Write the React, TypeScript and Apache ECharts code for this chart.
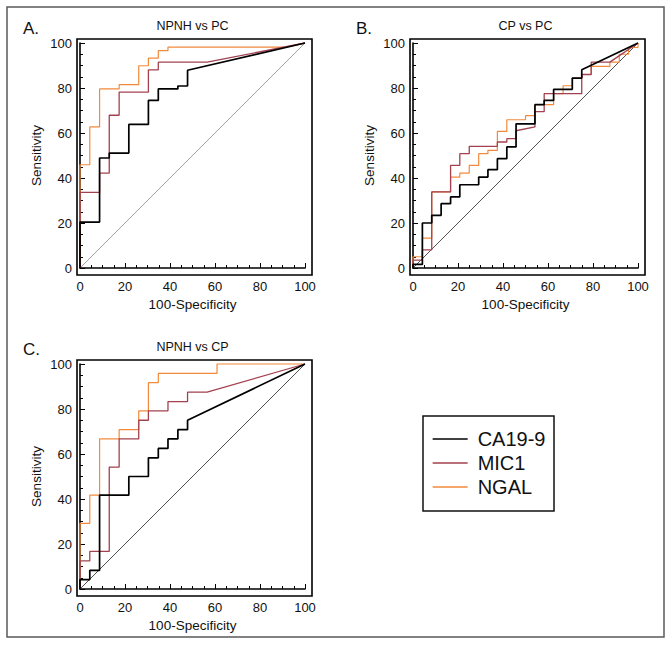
import React, { useEffect, useRef } from "react";
import * as echarts from "echarts";

// ---- data ----
const SERIES_NAMES = ["CA19-9", "MIC1", "NGAL"];
const PANEL_TITLES = ["NPNH vs PC", "CP vs PC", "NPNH vs CP"];
const PANEL_LETTERS = ["A.", "B.", "C."];
const X_AXIS_NAME = "100-Specificity";
const Y_AXIS_NAME = "Sensitivity";
const DIAGONAL = [[0, 0], [100, 100]];

// Panel A: NPNH vs PC
const A_CA199 = [[0, 0], [0, 20.4], [8.7, 20.4], [8.7, 48.9], [13, 48.9], [13, 51.1], [21.7, 51.1], [21.7, 63.8], [30.4, 63.8], [30.4, 74.5], [34.8, 74.5], [34.8, 79.6], [43.5, 79.6], [43.5, 80.9], [47.8, 80.9], [47.8, 87.9], [100, 100]];
const A_MIC1 = [[0, 0], [0, 33.6], [8.7, 33.6], [8.7, 42.2], [13, 42.2], [13, 67.9], [17.4, 67.9], [17.4, 78.2], [30.4, 78.2], [30.4, 88.1], [34.8, 88.1], [34.8, 91.5], [56.5, 91.5], [100, 100]];
const A_NGAL = [[0, 0], [0, 45.9], [4.35, 45.9], [4.35, 62.7], [8.7, 62.7], [8.7, 79.6], [17.4, 79.6], [17.4, 81.5], [26.1, 81.5], [26.1, 89.9], [30.4, 89.9], [30.4, 93.3], [34.8, 93.3], [34.8, 96.6], [39.1, 96.6], [39.1, 98.2], [91.3, 98.2], [100, 100]];

// Panel B: CP vs PC
const B_CA199 = [[0, 0], [0, 1.6], [4.17, 1.6], [4.17, 20], [8.33, 20], [8.33, 23.4], [12.5, 23.4], [12.5, 28.6], [16.7, 28.6], [16.7, 31.6], [20.8, 31.6], [20.8, 37], [29.2, 37], [29.2, 40.4], [33.3, 40.4], [33.3, 43.7], [37.5, 43.7], [37.5, 48.6], [41.7, 48.6], [41.7, 53.8], [45.8, 53.8], [45.8, 64.1], [54.2, 64.1], [54.2, 72.6], [58.3, 72.6], [58.3, 74.5], [62.5, 74.5], [62.5, 79.4], [70.8, 79.4], [70.8, 84.4], [75, 84.4], [75, 88.1], [100, 100]];
const B_MIC1 = [[0, 0], [0, 3.5], [4.17, 3.5], [4.17, 8.1], [8.33, 8.1], [8.33, 33.8], [16.7, 33.8], [16.7, 45.6], [20.8, 45.6], [20.8, 50.8], [25, 50.8], [25, 54.1], [37.5, 54.1], [37.5, 56], [41.7, 56], [41.7, 57.5], [45.8, 57.5], [45.8, 61], [54.2, 62.7], [54.2, 69.5], [58.3, 69.5], [58.3, 77.5], [75, 77.5], [75, 86], [79.2, 86], [79.2, 91.5], [87.5, 91.5], [100, 100]];
const B_NGAL = [[0, 0], [0, 5], [4.17, 5], [4.17, 13.3], [8.33, 13.3], [8.33, 33.8], [16.7, 33.8], [16.7, 40.4], [20.8, 40.4], [20.8, 42.2], [25, 42.2], [25, 45.6], [29.2, 45.6], [29.2, 50.8], [33.3, 50.8], [33.3, 52.3], [37.5, 52.3], [37.5, 60.7], [41.7, 60.7], [41.7, 65.9], [50, 65.9], [50, 67.7], [54.2, 67.7], [54.2, 72.6], [62.5, 72.6], [62.5, 77.5], [66.7, 77.5], [66.7, 81], [70.8, 81], [70.8, 84.4], [75, 84.4], [75, 86], [79.2, 86], [79.2, 89.6], [87.5, 89.6], [87.5, 91.5], [91.7, 91.5], [91.7, 95], [95.8, 95], [95.8, 98], [100, 98], [100, 100]];

// Panel C: NPNH vs CP
const C_CA199 = [[0, 0], [0, 4.2], [4.35, 4.2], [4.35, 8.3], [8.7, 8.3], [8.7, 41.7], [21.7, 41.7], [21.7, 50], [30.4, 50], [30.4, 58.3], [34.8, 58.3], [34.8, 62.5], [39.1, 62.5], [39.1, 66.7], [43.5, 66.7], [43.5, 70.8], [47.8, 70.8], [47.8, 75], [100, 100]];
const C_MIC1 = [[0, 0], [0, 12.5], [4.35, 12.5], [4.35, 16.7], [13, 16.7], [13, 54.2], [17.4, 54.2], [17.4, 66.7], [26.1, 66.7], [26.1, 75], [30.4, 75], [30.4, 79.2], [39.1, 79.2], [39.1, 83.3], [47.8, 83.3], [47.8, 87.5], [56.5, 87.5], [100, 100]];
const C_NGAL = [[0, 0], [0, 29.2], [4.35, 29.2], [4.35, 41.7], [8.7, 41.7], [8.7, 66.7], [17.4, 66.7], [17.4, 70.8], [26.1, 70.8], [26.1, 79.2], [30.4, 79.2], [30.4, 91.7], [34.8, 91.7], [34.8, 95.8], [60.9, 95.8], [60.9, 100], [100, 100]];

const PANEL_DATA = [
  [A_CA199, A_MIC1, A_NGAL],
  [B_CA199, B_MIC1, B_NGAL],
  [C_CA199, C_MIC1, C_NGAL],
];

// ---- layout / style ----
const FONT = "Liberation Sans, Arial, sans-serif";
const GRIDS = [
  { left: 80, top: 43 },
  { left: 413, top: 43 },
  { left: 80, top: 364 },
];
const SIZE = 225;
const COLORS = ["#000000", "#a3414f", "#f28a3c"];
const WIDTHS = [1.7, 1.3, 1.2];
const DIAG_COLORS = ["#8a8a8a", "#222222", "#222222"];

export default function App() {
  const ref = useRef<HTMLDivElement>(null);
  useEffect(() => {
    if (!ref.current) return;
    const chart = echarts.init(ref.current, null, { renderer: "svg" });

    const grid = GRIDS.map((g) => ({ left: g.left, top: g.top, width: SIZE, height: SIZE }));
    const axisCommon = {
      type: "value",
      min: 0,
      max: 100,
      interval: 20,
      axisLine: { show: true, lineStyle: { color: "#000", width: 1.6 } },
      axisTick: { show: true, inside: true, length: 5, lineStyle: { color: "#000", width: 1 } },
      minorTick: { show: true, splitNumber: 4, length: 3, lineStyle: { color: "#000", width: 1 } },
      splitLine: { show: false },
      minorSplitLine: { show: false },
      axisLabel: { color: "#111", fontSize: 13, fontFamily: FONT, margin: 5 },
      nameLocation: "middle",
      nameTextStyle: { color: "#111", fontSize: 13.5, fontFamily: FONT },
    };
    const xAxis = GRIDS.map((_, i) => ({
      ...axisCommon,
      gridIndex: i,
      position: "bottom",
      offset: 7,
      name: X_AXIS_NAME,
      nameGap: 22,
    }));
    const yAxis = GRIDS.map((_, i) => ({
      ...axisCommon,
      gridIndex: i,
      position: "left",
      offset: 3,
      name: Y_AXIS_NAME,
      nameGap: 34,
    }));

    const series: any[] = [];
    PANEL_DATA.forEach((panel, i) => {
      series.push({
        type: "line",
        name: "diag" + i,
        xAxisIndex: i,
        yAxisIndex: i,
        data: DIAGONAL,
        showSymbol: false,
        symbol: "none",
        clip: false,
        silent: true,
        lineStyle: { color: DIAG_COLORS[i], width: 0.8 },
      });
      [2, 1, 0].forEach((k) => {
        series.push({
          type: "line",
          name: SERIES_NAMES[k],
          xAxisIndex: i,
          yAxisIndex: i,
          data: panel[k],
          showSymbol: false,
          symbol: "none",
          clip: false,
          color: COLORS[k],
          lineStyle: { color: COLORS[k], width: WIDTHS[k] },
        });
      });
    });

    const graphic: any[] = [
      {
        type: "rect",
        shape: { x: 7, y: 7, width: 657, height: 630 },
        style: { fill: "none", stroke: "#5a5a5a", lineWidth: 1.5 },
        silent: true,
      },
      {
        type: "rect",
        shape: { x: 423, y: 416, width: 131, height: 95 },
        style: { fill: "none", stroke: "#111", lineWidth: 1.5 },
        silent: true,
      },
    ];
    GRIDS.forEach((g, i) => {
      graphic.push({
        type: "rect",
        shape: { x: g.left - 3, y: g.top - 4, width: SIZE + 10, height: SIZE + 11 },
        style: { fill: "none", stroke: "#000", lineWidth: 1.6 },
        silent: true,
        z: 10,
      });
      graphic.push({
        type: "text",
        x: g.left + SIZE / 2,
        y: g.top - 17,
        style: {
          text: PANEL_TITLES[i],
          fill: "#111",
          font: `12.5px ${FONT}`,
          textAlign: "center",
          textVerticalAlign: "middle",
        },
      });
      graphic.push({
        type: "text",
        x: g.left - 57,
        y: g.top - 15,
        style: {
          text: PANEL_LETTERS[i],
          fill: "#111",
          font: `17px ${FONT}`,
          textAlign: "left",
          textVerticalAlign: "middle",
        },
      });
    });

    chart.setOption({
      animation: false,
      backgroundColor: "#fff",
      grid,
      xAxis,
      yAxis,
      series,
      graphic,
      legend: {
        data: SERIES_NAMES,
        orient: "vertical",
        left: 432,
        top: 429,
        padding: 0,
        itemWidth: 35,
        itemHeight: 14,
        itemGap: 4,
        selectedMode: false,
        itemStyle: { opacity: 0 },
        lineStyle: { width: 1.3 },
        textStyle: { fontSize: 20, fontFamily: FONT, color: "#111", padding: [0, 0, 0, 5] },
      },
    });
    return () => chart.dispose();
  }, []);

  return (
    <div
      ref={ref}
      style={{ position: "fixed", left: 0, top: 0, width: 672, height: 645, background: "#fff" }}
    />
  );
}
